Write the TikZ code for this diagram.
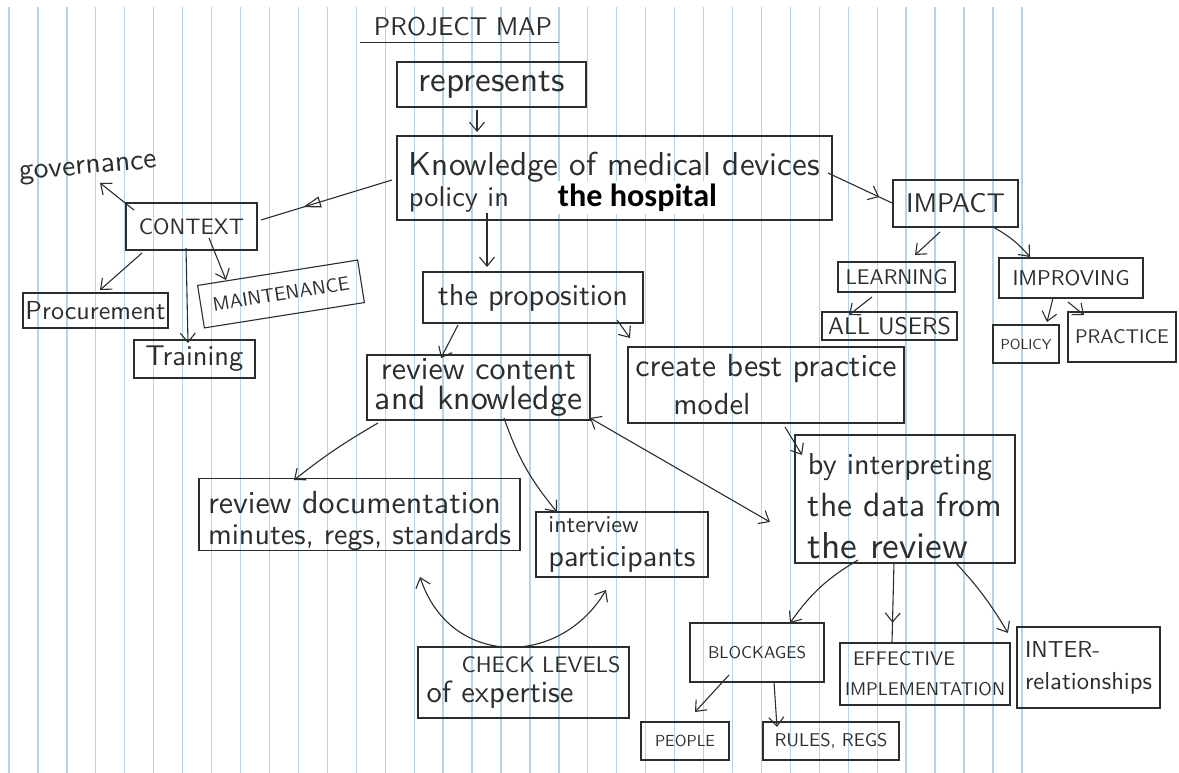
\documentclass[tikz,border=0pt]{standalone}
\usepackage{fontspec}
\usepackage{graphicx}
\newfontfamily\hospfont{Carlito}
\usetikzlibrary{arrows.meta,calc,decorations.markings}
\definecolor{ink}{RGB}{45,45,45}
\definecolor{paperrule}{RGB}{178,214,230}
\newcommand{\hw}[2]{\resizebox{#1pt}{!}{#2}}
\newcommand{\LinesC}[2]{\vbox{\baselineskip=#1pt\lineskiplimit=-200pt\lineskip=0pt\relax\halign{\hfil##\hfil\cr#2\crcr}}}
\newcommand{\LinesL}[2]{\vbox{\baselineskip=#1pt\lineskiplimit=-200pt\lineskip=0pt\relax\halign{##\hfil\cr#2\crcr}}}
\newcommand{\downby}[2]{\vbox{\kern#1pt\relax#2}}
\begin{document}
\begin{tikzpicture}[x=1pt,y=-1pt,
  box/.style={draw=ink, line width=1.1pt, rectangle, inner sep=0pt, text=ink, font=\sffamily},
  sz/.style 2 args={minimum width=#1pt, minimum height=#2pt},
  handtext/.style={text=ink, font=\sffamily, inner sep=2pt},
  arr/.style={draw=ink, line width=1.1pt, -{Straight Barb[length=9pt,width=15pt]}},
  dbl/.style={draw=ink, line width=1.1pt, {Straight Barb[length=9pt,width=15pt]}-{Straight Barb[length=9pt,width=15pt]}},
  midarr/.style={draw=ink, line width=1.1pt, decoration={markings, mark=at position #1 with {\arrow{Straight Barb[length=9pt,width=15pt]}}}, postaction={decorate}},
  midtri/.style={draw=ink, line width=1.1pt, decoration={markings, mark=at position #1 with {\arrow{Triangle[open,length=18pt,width=11pt]}}}, postaction={decorate}}
]
\useasboundingbox (0,0) rectangle (1179,773);
\fill[white] (0,0) rectangle (1179,773);
% ruled paper
\foreach \k in {0,...,35}{
  \draw[paperrule, line width=1.3pt] ({9+28.94*\k},7) -- ({9+28.94*\k},773);
}
% title
\node[handtext] (title) at (463,27) {\hw{178}{PROJECT MAP}};
\draw[ink, line width=1.1pt] ($(title.south west)+(-12,4)$) -- ($(title.south east)+(5,4)$);

% boxes
\node[box, sz={189}{45}] (rep) at (491.5,84.5) {\hw{146}{represents}};
\node[box, sz={435}{84}] (know) at (614.5,178)
  {\downby{10}{\LinesL{31}{\hw{411}{Knowledge of medical devices}\cr\hw{100}{policy in}\hspace{46pt}\colorbox{white}{\color{black}\hw{159}{\hospfont\bfseries the hospital}}}}};
\node[handtext, rotate=5] (gov) at (88,170) {\hw{138}{governance}};
\node[box, sz={131}{47}] (ctx) at (191.5,226.5) {\hw{105}{CONTEXT}};
\node[box, sz={145}{35}] (proc) at (95.5,310.5) {\hw{140}{Procurement}};
\node[box, sz={162}{43}, rotate=9] (maint) at (281,294) {\hw{138}{MAINTENANCE}};
\node[box, sz={121}{38}] (train) at (194.5,359) {\hw{98}{Training}};
\node[box, sz={220}{51}] (prop) at (533,297.5) {\hw{190}{the proposition}};
\node[box, sz={223}{65}] (rev) at (478.5,387.5) {\LinesC{30}{\hw{195}{review content}\cr\hw{207}{and knowledge}}};
\node[box, sz={276}{76}] (cbp) at (766,385) {\LinesL{38}{\hw{261}{create best practice}\cr\hspace{38pt}\hw{77}{model}}};
\node[box, sz={220}{128}] (interp) at (905,499) {\downby{14}{\LinesL{42}{\hw{184}{by interpreting}\cr\hw{194}{the data from}\cr\hw{160}{the review}}}};
\node[box, sz={321}{65}] (doc) at (359.5,514.5) {\downby{12}{\LinesL{31}{\hw{293}{review documentation}\cr\hw{303}{minutes, regs, standards}}}};
\node[box, sz={172}{65}] (intv) at (622,544.5) {\LinesL{34}{\hw{90}{interview}\cr\hw{147}{participants}}};
\node[box, sz={211}{71}] (check) at (523.5,682.5) {\LinesL{30}{\hspace{35pt}\hw{159}{CHECK LEVELS}\cr\hw{147}{of expertise}}};
\node[box, sz={134}{59}] (block) at (757,652.5) {\hw{98}{BLOCKAGES}};
\node[box, sz={170}{62}] (eff) at (925,674) {\LinesL{30}{\hspace{8pt}\hw{102}{EFFECTIVE}\cr\hw{160}{IMPLEMENTATION}}};
\node[box, sz={143}{81}] (inter) at (1088.5,667.5) {\LinesL{32}{\hw{75}{INTER-}\cr\hw{127}{relationships}}};
\node[box, sz={88}{38}] (people) at (685,741) {\hw{60}{PEOPLE}};
\node[box, sz={136}{38}] (rules) at (831,741) {\hw{113}{RULES, REGS}};
\node[box, sz={125}{47}] (impact) at (955.5,203.5) {\hw{99}{IMPACT}};
\node[box, sz={117}{30}] (learn) at (896.5,277) {\hw{102}{LEARNING}};
\node[box, sz={135}{28}] (allu) at (889.5,326) {\hw{123}{ALL USERS}};
\node[box, sz={144}{40}] (improv) at (1071,278) {\hw{117}{IMPROVING}};
\node[box, sz={66}{38}] (policy) at (1026,344) {\hw{51}{POLICY}};
\node[box, sz={108}{50}] (pract) at (1122,337) {\hw{94}{PRACTICE}};

% connectors
\draw[arr] ($(rep)+(-14.5,25.5)$) -- ($(know)+(-137.5,-46)$);
\draw[midtri=0.68] ($(know)+(-222.5,2)$) -- ($(ctx)+(69.5,-6.5)$);
\draw[arr] ($(ctx)+(-57.5,-16.5)$) -- ($(gov)+(12,13)$);
\draw[arr] ($(ctx)+(-49.5,26.5)$) -- ($(proc)+(4.5,-20.5)$);
\draw[arr] ($(ctx)+(-5.5,21.5)$) -- ($(train)+(-6.5,-16)$);
\draw[arr] ($(ctx)+(17.5,11.5)$) -- ($(maint)+(-55,-14)$);
\draw[arr] ($(know)+(-127.5,35)$) -- ($(prop)+(-46,-30.5)$);
\draw[arr] ($(prop)+(-75,27.5)$) -- ($(rev)+(-37.5,-29.5)$);
\draw[arr] ($(prop)+(84,22.5)$) -- ($(cbp)+(-136,-47)$);
\draw[arr] ($(cbp)+(19,42)$) -- ($(interp)+(-103,-44)$);
\draw[dbl] ($(rev)+(111.5,30.5)$) -- ($(interp)+(-135,23)$);
\draw[arr] ($(rev)+(-100.5,35.5)$) to[bend right=4] ($(doc)+(-65.5,-34.5)$);
\draw[arr] ($(rev)+(25.5,30.5)$) to[bend right=10] ($(intv)+(-65,-32.5)$);
\draw[dbl] ($(doc)+(60.5,62.5)$) .. controls +(30,91) and +(-46,78) .. ($(intv)+(-16,45.5)$);
\draw[arr] ($(interp)+(-47,61)$) to[bend right=12] ($(block)+(33,-29.5)$);
\draw[midarr=0.75] ($(interp)+(-11,63)$) -- ($(eff)+(-33,-31)$);
\draw[arr] ($(interp)+(50,63)$) to[bend left=6] ($(inter)+(-80.5,-34.5)$);
\draw[arr] ($(block)+(-28,22.5)$) -- ($(people)+(10,-29)$);
\draw[arr] ($(block)+(17,29.5)$) -- ($(rules)+(-54,-14)$);
\draw[midarr=0.8] ($(know)+(213.5,-5)$) -- ($(impact)+(-63.5,-0.5)$);
\draw[arr] ($(impact)+(-15.5,28.5)$) -- ($(learn)+(18.5,-22)$);
\draw[arr] ($(impact)+(37.5,23.5)$) to[bend left=10] ($(improv)+(-41,-21)$);
\draw[arr] ($(learn)+(-24.5,20)$) -- ($(allu)+(-40.5,-11)$);
\draw[arr] ($(improv)+(-18,20)$) -- ($(policy)+(21,-22)$);
\draw[arr] ($(improv)+(-3,24)$) -- ($(pract)+(-38,-22)$);
\end{tikzpicture}
\end{document}
